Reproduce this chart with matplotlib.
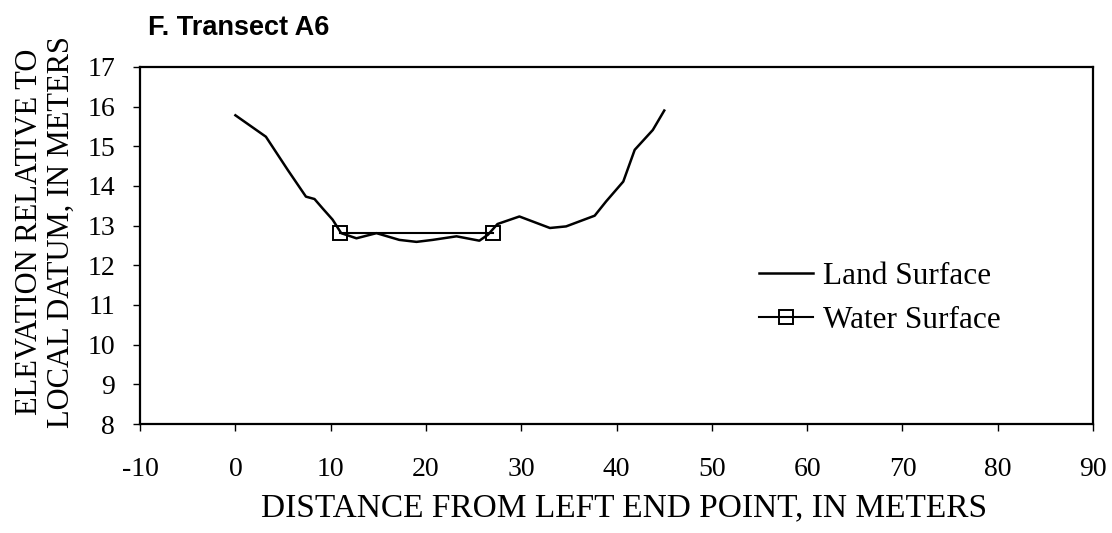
import matplotlib.pyplot as plt

# land surface profile
land_x = [0.0, 3.2, 5.5, 7.4, 8.3, 9.2, 10.2, 11.1, 12.7, 14.8, 17.2, 19.0, 20.7,
          23.2, 25.6, 26.5, 27.5, 29.8, 33.0, 34.7, 37.7, 38.9, 40.7, 41.9, 43.8, 45.0]
land_y = [15.78, 15.24, 14.40, 13.73, 13.67, 13.42, 13.15, 12.81, 12.68, 12.81, 12.64,
          12.59, 12.64, 12.73, 12.62, 12.77, 13.04, 13.23, 12.94, 12.98, 13.25, 13.61,
          14.11, 14.91, 15.41, 15.90]

water_x = [11.0, 27.0]
water_y = [12.82, 12.82]

xticks = list(range(-10, 91, 10))
yticks = list(range(8, 18))

serif = ['Liberation Serif', 'DejaVu Serif']

fig = plt.figure(figsize=(11.12, 5.33), dpi=100)
ax = fig.add_axes([0.126, 0.2045, 0.857, 0.67])

ax.plot(land_x, land_y, color='black', lw=1.8, label='Land Surface')
ax.plot(water_x, water_y, color='black', lw=1.5, marker='s', ms=10,
        mfc='none', mec='black', mew=1.4, label='Water Surface')

ax.set_xlim(-10, 90)
ax.set_ylim(8, 17)
ax.set_xticks(xticks)
ax.set_yticks(yticks)
ax.set_xticklabels([str(t) for t in xticks], family=serif, fontsize=20)
ax.set_yticklabels([str(t) for t in yticks], family=serif, fontsize=20)
ax.tick_params(axis='x', direction='out', length=5, width=1, pad=19)
ax.tick_params(axis='y', direction='out', length=5, width=1, pad=13)
for s in ax.spines.values():
    s.set_linewidth(1.6)

fig.text(0.561, 0.047, 'DISTANCE FROM LEFT END POINT, IN METERS', family=serif,
         fontsize=24, ha='center', va='center')
fig.text(0.041, 1 - 232 / 533, 'ELEVATION RELATIVE TO\nLOCAL DATUM, IN METERS',
         family=serif, fontsize=22, rotation=90, ha='center', va='center',
         multialignment='center', linespacing=1.12)

ax.legend(loc='upper left', bbox_to_anchor=(0.649, 0.455), frameon=False,
          prop={'family': serif, 'size': 22.5}, handlelength=1.75,
          handletextpad=0.3, labelspacing=0.5, borderpad=0, borderaxespad=0)

fig.text(0.133, 1 - 35 / 533, 'F. Transect A6', family='Liberation Sans',
         fontweight='bold', fontsize=19.5, ha='left', va='baseline')

fig.savefig('out.png', dpi=100)
